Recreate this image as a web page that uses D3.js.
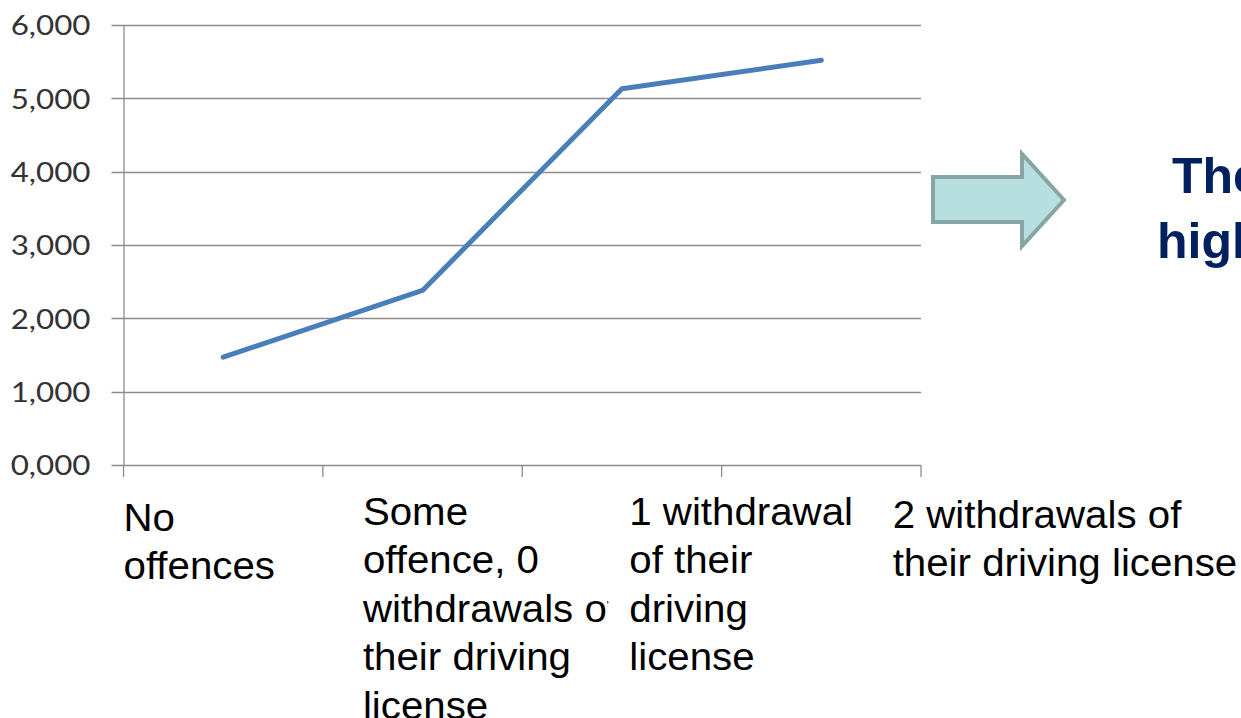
<!DOCTYPE html>
<html>
<head>
<meta charset="utf-8">
<script src="https://cdn.jsdelivr.net/npm/d3@7"></script>
<style>
  body { margin: 0; background: #fff; overflow: hidden; }
  svg { display: block; }
</style>
</head>
<body>
<div class="main"></div>
<script>
// categories, shown as wrapped lines under the axis
let categories = ['No offences', 'Some offence', '1 withdrawal', '2 withdrawals'];
let categoryLines = [
  ['No', 'offences'],
  ['Some', 'offence, 0', 'withdrawals of', 'their driving', 'license'],
  ['1 withdrawal', 'of their', 'driving', 'license'],
  ['2 withdrawals of', 'their driving license']
];
let values = [1.47, 2.38, 5.13, 5.52];
let yTicks = [0, 1, 2, 3, 4, 5, 6];
let calloutLines = ['The', 'high'];

let width = 1241, height = 718;
let plot = { left: 123.5, right: 921, top: 25, bottom: 465 };

let svg = d3.select('.main').append('svg')
  .attr('width', width)
  .attr('height', height);

let x = d3.scaleBand().domain(categories).range([plot.left, plot.right]).padding(0);
let y = d3.scaleLinear().domain([0, 6]).range([plot.bottom, plot.top]);

// decimal comma, like the original
let fmt = d3.formatLocale({ decimal: ',', thousands: '.', grouping: [3], currency: ['', ''] }).format('.3f');

// gridlines
svg.append('g').selectAll('line').data(yTicks).enter().append('line')
  .attr('x1', plot.left - 12).attr('x2', plot.right)
  .attr('y1', d => Math.round(y(d)) + 0.5).attr('y2', d => Math.round(y(d)) + 0.5)
  .attr('stroke', '#8c8c8c').attr('stroke-width', 1.3);

// y axis
let yAxis = svg.append('g')
  .attr('transform', `translate(${plot.left},0)`)
  .call(d3.axisLeft(y).tickValues(yTicks).tickFormat(fmt).tickSize(0));
yAxis.select('.domain').attr('stroke', '#8c8c8c').attr('stroke-width', 1.3);
yAxis.selectAll('text')
  .attr('x', 0)
  .attr('transform', 'translate(-33,0) scale(1.14,1)')
  .attr('font-family', 'Lato, sans-serif').attr('font-size', 27.5)
  .attr('fill', '#333').attr('dy', '0.36em');

// x axis: ticks between categories
let bounds = categories.map(c => x(c)).concat([plot.right]);
let xAxis = svg.append('g')
  .attr('transform', `translate(0,${plot.bottom})`)
  .call(d3.axisBottom(x).tickValues([]).tickSizeOuter(0));
xAxis.select('.domain').remove();
xAxis.selectAll('line.bt').data(bounds).enter().append('line')
  .attr('class', 'bt')
  .attr('x1', d => d).attr('x2', d => d)
  .attr('y1', 0).attr('y2', 12)
  .attr('stroke', '#8c8c8c').attr('stroke-width', 1.3);

// category labels; each sits on a white box so the next one hides overflow
let labelDx = [0, 40, 107, 171];
let labelDy = [531, 525, 525, 528];
let labelG = svg.append('g').selectAll('g').data(categoryLines).enter().append('g')
  .attr('transform', (d, i) => `translate(${x(categories[i]) + labelDx[i]},${labelDy[i]})`);
labelG.append('rect')
  .attr('x', -21).attr('y', -40)
  .attr('width', 300).attr('height', 240)
  .attr('fill', '#fff');
let labels = labelG.append('text')
  .attr('transform', 'scale(1.06,1)')
  .attr('font-family', 'Liberation Sans, Arial, sans-serif')
  .attr('font-size', 38)
  .attr('fill', '#000');
labels.selectAll('tspan').data(d => d).enter().append('tspan')
  .attr('x', 0)
  .attr('dy', (d, i) => i === 0 ? 0 : 48.5)
  .text(d => d);

// the line
let line = d3.line()
  .x((d, i) => x(categories[i]) + x.bandwidth() / 2)
  .y(d => y(d));
svg.append('path').datum(values)
  .attr('d', line)
  .attr('fill', 'none')
  .attr('stroke', '#4a7ebb')
  .attr('stroke-width', 5)
  .attr('stroke-linecap', 'round')
  .attr('stroke-linejoin', 'round');

// block arrow
let arrow = [[933, 177], [1022, 177], [1022, 154], [1064, 200], [1022, 246], [1022, 222], [933, 222]];
svg.append('path')
  .attr('d', d3.line()(arrow) + 'Z')
  .attr('fill', '#b7dfe0')
  .attr('stroke', '#88a5a5')
  .attr('stroke-width', 4)
  .attr('stroke-linejoin', 'miter');

// callout text, cut off at the page edge
let callout = svg.append('text')
  .attr('font-family', 'Liberation Sans, Arial, sans-serif')
  .attr('font-weight', 'bold')
  .attr('font-size', 50)
  .attr('fill', '#002060');
callout.selectAll('tspan').data(calloutLines).enter().append('tspan')
  .attr('x', (d, i) => i === 0 ? 1172 : 1157)
  .attr('y', (d, i) => i === 0 ? 193 : 258)
  .text(d => d);
</script>
</body>
</html>
